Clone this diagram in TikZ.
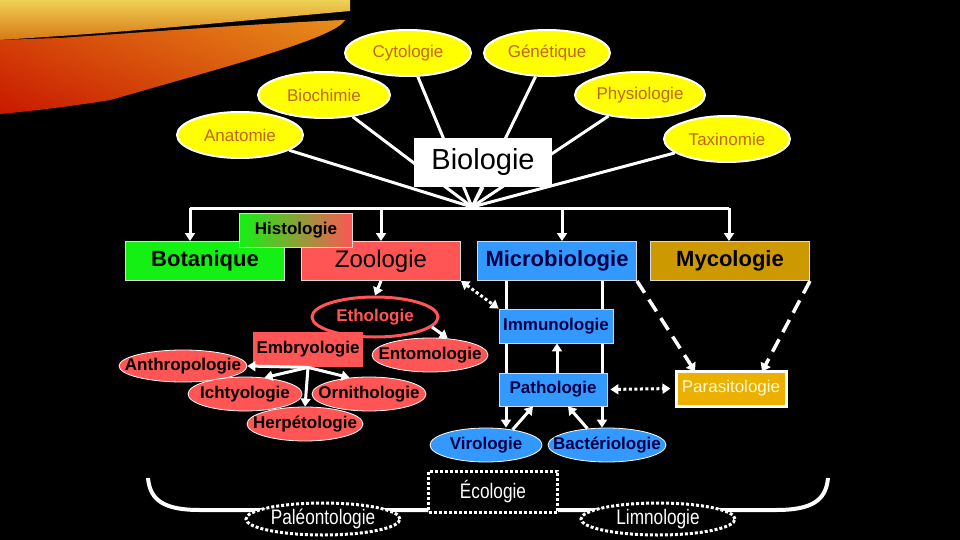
\documentclass[tikz,border=0pt]{standalone}
\usepackage{fontspec}
\setmainfont{Liberation Sans}
\newfontfamily\narrowfont[FakeStretch=0.82]{Liberation Sans}
\usetikzlibrary{shapes.geometric,arrows.meta}
\definecolor{yel}{RGB}{255,255,0}
\definecolor{yeltxt}{RGB}{195,100,20}
\definecolor{grn}{RGB}{20,240,20}
\definecolor{redc}{RGB}{255,85,85}
\definecolor{bluec}{RGB}{51,153,255}
\definecolor{navy}{RGB}{0,0,70}
\definecolor{goldc}{RGB}{204,153,0}
\definecolor{parac}{RGB}{236,176,0}
\definecolor{paratxt}{RGB}{255,250,210}
\newcommand\mkzw[1]{\makebox[0pt]{#1}}
\begin{document}
\begin{tikzpicture}[x=1pt,y=-1pt,
  yell/.style={ellipse, fill=yel, draw=white, line width=2pt, inner sep=0pt,
    minimum width=126pt, minimum height=46pt, text=yeltxt, font=\fontsize{17}{20}\selectfont},
  bigbox/.style={rectangle, draw=white!85!black, line width=1pt, inner sep=0pt,
    minimum width=159pt, minimum height=39pt, font=\fontsize{22}{26}\selectfont\bfseries},
  midbox/.style={rectangle, draw=white!85!black, line width=0.8pt, inner sep=0pt,
    minimum height=34pt, font=\fontsize{17}{20}\selectfont\bfseries},
  redell/.style={ellipse, fill=redc, draw=white, line width=0.8pt, inner sep=0pt,
    minimum height=34pt, font=\fontsize{17}{20}\selectfont\bfseries},
  blueell/.style={ellipse, fill=bluec, draw=white, line width=0.8pt, inner sep=0pt,
    minimum height=34pt, text=navy, font=\fontsize{17}{20}\selectfont\bfseries},
  dotell/.style={ellipse, fill=black, draw=white, line width=3pt, dash pattern=on 3pt off 2pt,
    inner sep=0pt, minimum width=154pt, minimum height=32pt, text=white, font=\narrowfont\fontsize{21}{24}\selectfont},
  wl/.style={draw=white, line width=3pt},
  arr/.style={wl, -{Triangle[length=8pt,width=10pt]}},
  dotarr/.style={draw=white, line width=3pt, dash pattern=on 3pt off 2.5pt,
    {Triangle[length=8pt,width=10pt]}-{Triangle[length=8pt,width=10pt]}},
  dasharr/.style={draw=white, line width=3.5pt, dash pattern=on 14pt off 8pt,
    -{Triangle[length=8pt,width=11pt]}}
]
% background
\fill[black] (0,0) rectangle (960,540);
\useasboundingbox (0,0) rectangle (960,540);
% swoosh
\shade[top color={rgb,255:red,238;green,210;blue,85}, bottom color={rgb,255:red,215;green,120;blue,20}]
  (0,0) -- (350,0) -- (350,11) .. controls (250,20) and (150,30) .. (60,36) -- (0,40) -- cycle;
\shade[left color={rgb,255:red,200;green,25;blue,0}, right color={rgb,255:red,235;green,165;blue,35}]
  (0,40) -- (60,38) .. controls (150,32) and (250,24) .. (345,20)
  .. controls (335,37) and (250,60) .. (110,100) .. controls (60,108) and (20,112) .. (0,114) -- cycle;
\shade[top color={rgb,255:red,230;green,120;blue,20}, bottom color={rgb,255:red,200;green,25;blue,0}, opacity=0.5]
  (0,40) -- (60,38) .. controls (150,32) and (250,24) .. (345,20)
  .. controls (335,37) and (250,60) .. (110,100) .. controls (60,108) and (20,112) .. (0,114) -- cycle;

% top ellipses
\node[yell] (cyto) at (408,53) {Cytologie};
\node[yell] (gene) at (547,53) {Génétique};
\node[yell, minimum width=132pt] (bioch) at (324,95) {Biochimie};
\node[yell, minimum width=130pt] (physio) at (640,95) {Physiologie};
\node[yell] (anat) at (240,135) {Anatomie};
\node[yell] (taxi) at (727,139) {Taxinomie};

\coordinate (conv) at (472,207);
\foreach \n in {anat,bioch,cyto,gene,physio,taxi} \draw[wl] (\n) -- (conv);

\node[rectangle, fill=white, inner sep=0pt, minimum width=138pt, minimum height=49pt,
  font=\fontsize{29}{34}\selectfont] (bio) at (483,162.5) {Biologie};
\draw[wl] (bio.south) -- (conv);

% horizontal bar
\coordinate (hbL) at (190,208);
\coordinate (hbZ) at (381,208);
\coordinate (hbM) at (562,208);
\coordinate (hbR) at (729,208);
\draw[wl] (hbL) -- (hbR);

% main boxes
\node[bigbox, fill=grn] (bota) at (205,261) {Botanique};
\node[bigbox, fill=redc, font=\fontsize{24}{28}\selectfont] (zoo) at (381,261) {Zoologie};
\node[bigbox, fill=bluec, text=navy] (micro) at (557,261) {Microbiologie};
\node[bigbox, fill=goldc] (myco) at (730,261) {Mycologie};
\draw[arr] (hbL) -- (hbL |- bota.north);
\draw[arr] (hbZ) -- (hbZ |- zoo.north);
\draw[arr] (hbM) -- (hbM |- micro.north);
\draw[arr] (hbR) -- (hbR |- myco.north);
\node[midbox, left color=grn, right color=redc, minimum width=113pt] (histo) at (296,230) {Histologie};

% zoology branch
\node[ellipse, fill=black, draw=redc, line width=3pt, inner sep=0pt, minimum width=126pt,
  minimum height=40pt, text=redc, font=\fontsize{17}{20}\selectfont\bfseries] (etho) at (375,317) {\mkzw{Ethologie}};
\draw[arr] (zoo.south) -- (etho.north);
\node[redell, minimum width=116pt] (ento) at (430,355) {\mkzw{Entomologie}};
\draw[arr] (etho.-10) -- (ento.43);
\node[midbox, fill=redc, draw=none, minimum width=110pt, minimum height=35pt] (embryo) at (308,349.5) {Embryologie};
\node[redell, minimum width=128pt, minimum height=32pt] (anthro) at (183,366) {\mkzw{Anthropologie}};
\node[redell, minimum width=114pt] (ichty) at (245,394) {\mkzw{Ichtyologie}};
\node[redell, minimum width=114pt] (orni) at (369,394) {\mkzw{Ornithologie}};
\node[redell, minimum width=116pt] (herp) at (305,424) {\mkzw{Herpétologie}};
\draw[arr] (embryo.south) -- (anthro.east);
\draw[arr] (embryo.south) -- (ichty.40);
\draw[arr] (embryo.south) -- (orni.140);
\draw[arr] (embryo.south) -- (herp.north);

% microbiology branch
\node[blueell, minimum width=112pt] (viro) at (486,445) {\mkzw{Virologie}};
\node[blueell, minimum width=118pt] (bact) at (607,445) {\mkzw{Bactériologie}};
\coordinate (vx) at (506,0);
\coordinate (bx) at (602,0);
\coordinate (px) at (557,0);
\draw[arr] (vx |- micro.south) -- (vx |- viro.north);
\draw[arr] (bx |- micro.south) -- (bx |- bact.north);
\node[midbox, fill=bluec, text=navy, minimum width=114pt] (immuno) at (556,326) {Immunologie};
\node[midbox, fill=bluec, text=navy, minimum width=108pt, minimum height=33pt] (patho) at (553,389.5) {Pathologie};
\draw[arr] (px |- patho.north) -- (px |- immuno.south);
\draw[arr] (viro.30) -- ([xshift=-20pt]patho.south);
\draw[arr] (bact.140) -- ([xshift=15pt]patho.south);
\draw[dotarr] (zoo.south east) -- (immuno.north west);

\node[rectangle, fill=parac, draw=white, line width=3pt, inner sep=0pt, minimum width=110pt,
  minimum height=35pt, text=paratxt, font=\fontsize{17}{20}\selectfont] (para) at (731,388.5) {Parasitologie};
\draw[dotarr, shorten <=3pt, shorten >=4pt] (patho.east) -- (para.west);
\draw[dasharr] (micro.south east) -- ([xshift=-36pt,yshift=-2pt]para.north);
\draw[dasharr] (myco.south east) -- ([xshift=31pt,yshift=-2pt]para.north);

% ecology brace
\coordinate (bl) at (148,478);
\coordinate (br) at (828,478);
\coordinate (hl) at (200,510);
\coordinate (hr) at (776,510);
\node[rectangle, inner sep=0pt, minimum width=129pt, minimum height=41pt] (ecoPos) at (493,491.5) {};
\draw[white, line width=4pt] (bl) .. controls (150,501) and (165,510) .. (hl) -- (ecoPos.west |- hl);
\draw[white, line width=4pt] (br) .. controls (826,501) and (811,510) .. (hr) -- (ecoPos.east |- hr);
\node[rectangle, fill=black, draw=white, line width=3pt, dash pattern=on 3pt off 2pt, inner sep=0pt,
  minimum width=129pt, minimum height=41pt, text=white, font=\narrowfont\fontsize{21}{24}\selectfont] (eco) at (493,491.5) {Écologie};
\node[dotell] (paleo) at (323,519) {\mkzw{Paléontologie}};
\node[dotell] (limno) at (658,519) {\mkzw{Limnologie}};
\end{tikzpicture}
\end{document}
